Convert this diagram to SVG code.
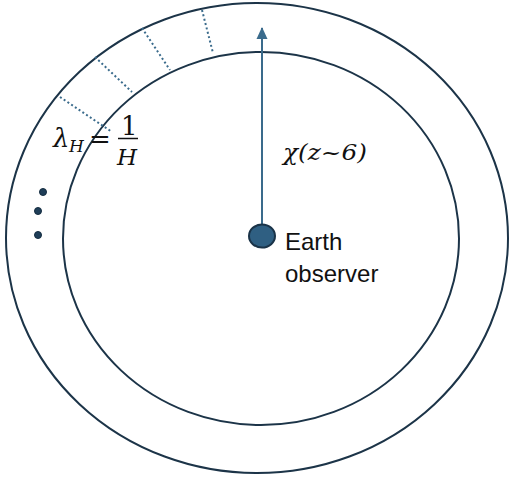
<svg xmlns="http://www.w3.org/2000/svg" width="514" height="478" viewBox="0 0 514 478">
<style>
.ring{fill:none;stroke:#1c3448;stroke-width:2}
.dot{fill:none;stroke:#3a6b8c;stroke-width:2;stroke-dasharray:2 2.5}
.math{font-family:"DejaVu Serif",serif;font-style:italic;fill:#111}
.lbl{font-family:"Liberation Sans",Arial,sans-serif;font-size:24px;fill:#111}
.dd{fill:#1f3e58;stroke:#142c40;stroke-width:1}
</style>
<defs>
<marker id="ah" viewBox="0 0 12 12" refX="11" refY="6" markerWidth="12" markerHeight="12" markerUnits="userSpaceOnUse" orient="auto">
<path d="M0,0.5 L12,6 L0,11.5 Z" fill="#3a6b8c"/>
</marker>
</defs>
<rect width="514" height="478" fill="#fff"/>
<g id="outer-ring"><ellipse class="ring" cx="257" cy="238" rx="251" ry="235"/></g>
<g id="inner-ring"><ellipse class="ring" cx="261" cy="238.5" rx="198" ry="186.5"/></g>
<g id="connectors">
<line x1="262" y1="225" x2="262" y2="28" stroke="#3a6b8c" stroke-width="2" marker-end="url(#ah)"/>
<line class="dot" x1="60" y1="97" x2="112" y2="132"/>
<line class="dot" x1="95" y1="57" x2="132" y2="92"/>
<line class="dot" x1="142" y1="28" x2="170" y2="70"/>
<line class="dot" x1="202" y1="10" x2="213" y2="53"/>
</g>
<g id="earth">
<ellipse cx="262" cy="236" rx="13" ry="11.5" fill="#2f5f82" stroke="#1a3348" stroke-width="2"/>
<text class="lbl" x="285" y="250">Earth</text>
<text class="lbl" x="285" y="282">observer</text>
</g>
<g id="chi-label">
<text class="math" x="283" y="160" font-size="23" textLength="84" lengthAdjust="spacingAndGlyphs">χ(z~6)</text>
</g>
<g id="lambda-label">
<text class="math" x="53" y="147" font-size="26">λ</text>
<text class="math" x="69" y="152" font-size="17">H</text>
<text x="89" y="148" font-family="DejaVu Serif,serif" font-size="26" fill="#111">=</text>
<text x="121" y="135" font-family="DejaVu Serif,serif" font-size="26" fill="#111">1</text>
<line x1="118" y1="138.5" x2="138" y2="138.5" stroke="#111" stroke-width="1.5"/>
<text class="math" x="117" y="165" font-size="23">H</text>
</g>
<g id="ellipsis">
<circle class="dd" cx="43" cy="192" r="3.5"/>
<circle class="dd" cx="38" cy="211" r="3.5"/>
<circle class="dd" cx="38" cy="235" r="3.5"/>
</g>
</svg>
